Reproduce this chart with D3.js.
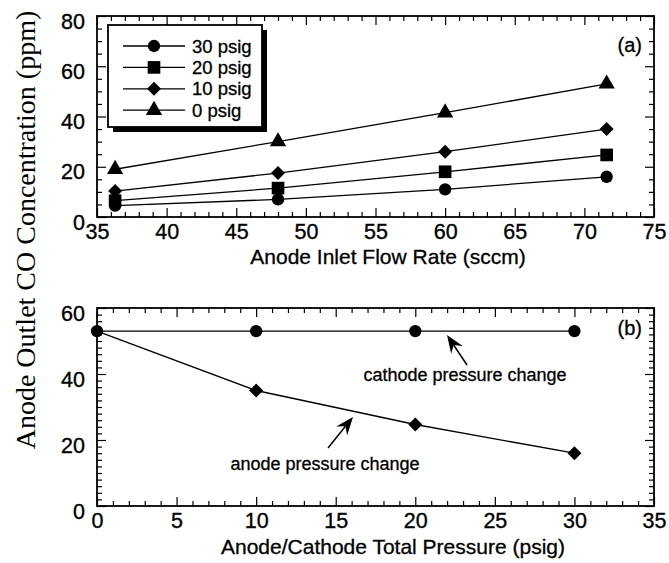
<!DOCTYPE html>
<html>
<head>
<meta charset="utf-8">
<script src="https://cdn.jsdelivr.net/npm/d3@7/dist/d3.min.js"></script>
<style>
  html, body { margin: 0; padding: 0; background: #fff; }
  svg { display: block; }
  .tick text { font-family: "Liberation Sans", Arial, Helvetica, sans-serif; font-size: 21.5px; fill: #000; stroke: #000; stroke-width: 0.35px; }
  .lbl { stroke: #000; stroke-width: 0.3px; }
</style>
</head>
<body>
<svg id="chart" width="669" height="563"></svg>
<script>
// Panel (a): CO at anode outlet vs anode inlet flow rate, one series per pressure
const flowRates = [36.3, 48, 60, 71.6];
const co30psig = [4.5, 7, 11, 16];
const co20psig = [6.5, 11.5, 18, 24.7];
const co10psig = [10.3, 17.5, 26, 35];
const co0psig  = [19, 30, 41.5, 53];
const seriesNames = ["30 psig", "20 psig", "10 psig", "0 psig"];
const seriesSymbols = ["circle", "square", "diamond", "triangle"];

// Panel (b): CO vs total pressure, raising cathode vs anode pressure
const pressures = [0, 10, 20, 30];
const cathodeChange = [53, 53, 53, 53];
const anodeChange = [53, 35, 24.7, 16];

// Axis ticks
const xTicksA = [35, 40, 45, 50, 55, 60, 65, 70, 75];
const yTicksA = [0, 20, 40, 60, 80];
const xTicksB = [0, 5, 10, 15, 20, 25, 30, 35];
const yTicksB = [0, 20, 40, 60];

const svg = d3.select("#chart");
const sans = "'Liberation Sans', Arial, Helvetica, sans-serif";
const serif = "'Liberation Serif', 'Times New Roman', Times, serif";

const left = 97, right = 654;
const panelA = { top: 16, bottom: 217 };
const panelB = { top: 308, bottom: 506 };

const xA = d3.scaleLinear().domain([35, 75]).range([left, right]);
const yA = d3.scaleLinear().domain([0, 80]).range([panelA.bottom, panelA.top]);
const xB = d3.scaleLinear().domain([0, 35]).range([left, right]);
const yB = d3.scaleLinear().domain([0, 60]).range([panelB.bottom, panelB.top]);

function range(a, b, step) {
  const out = [];
  for (let v = a; v <= b + 1e-9; v += step) out.push(+v.toFixed(6));
  return out;
}

function drawFrame(x, y, majorX, minorX, majorY, minorY) {
  const g = svg.append("g");
  const [x0, x1] = x.range();
  const [y0, y1] = y.range();
  const minorXv = minorX.filter(v => !majorX.includes(v));
  const minorYv = minorY.filter(v => !majorY.includes(v));

  // bottom: labelled major ticks and minor ticks, all pointing inward
  const b = g.append("g").attr("transform", `translate(0,${y0})`);
  b.call(d3.axisBottom(x).tickValues(majorX).tickSize(-9).tickPadding(7).tickFormat(d3.format("d")));
  b.append("g").call(d3.axisBottom(x).tickValues(minorXv).tickSize(-5).tickFormat(""));
  // top
  const t = g.append("g").attr("transform", `translate(0,${y1})`);
  t.call(d3.axisTop(x).tickValues(majorX).tickSize(-9).tickFormat(""));
  t.append("g").call(d3.axisTop(x).tickValues(minorXv).tickSize(-5).tickFormat(""));
  // left
  const l = g.append("g").attr("transform", `translate(${x0},0)`);
  l.call(d3.axisLeft(y).tickValues(majorY).tickSize(-9).tickPadding(12).tickFormat(d3.format("d")));
  l.selectAll(".tick text").attr("dy", "0.56em");
  l.append("g").call(d3.axisLeft(y).tickValues(minorYv).tickSize(-5).tickFormat(""));
  // right
  const r = g.append("g").attr("transform", `translate(${x1},0)`);
  r.call(d3.axisRight(y).tickValues(majorY).tickSize(-9).tickFormat(""));
  r.append("g").call(d3.axisRight(y).tickValues(minorYv).tickSize(-5).tickFormat(""));

  g.selectAll(".domain").remove();
  g.selectAll(".tick line").attr("stroke", "#000").attr("stroke-width", 1.2);

  g.append("rect")
    .attr("x", x0).attr("y", y1)
    .attr("width", x1 - x0).attr("height", y0 - y1)
    .attr("fill", "none").attr("stroke", "#000").attr("stroke-width", 1.8);
}

// marker shapes: circle, square, 45-degree diamond, triangle
function symbolPath(name) {
  if (name === "circle") return d3.symbol().type(d3.symbolCircle).size(120)();
  if (name === "square") return d3.symbol().type(d3.symbolSquare).size(160)();
  if (name === "triangle") return d3.symbol().type(d3.symbolTriangle).size(115)();
  const h = 7;
  return `M0,${-h}L${h},0L0,${h}L${-h},0Z`;
}

function drawSeries(x, y, xs, ys, symbol, showMarker) {
  const pts = xs.map((v, i) => [x(v), y(ys[i])]);
  svg.append("path")
    .attr("d", d3.line()(pts))
    .attr("fill", "none").attr("stroke", "#000").attr("stroke-width", 1.3);
  svg.append("g").selectAll("path")
    .data(pts.filter((p, i) => showMarker(i)))
    .join("path")
    .attr("transform", d => `translate(${d[0]},${d[1]})`)
    .attr("d", symbolPath(symbol))
    .attr("fill", "#000");
}

// ---------- panel (a) ----------
drawFrame(xA, yA, xTicksA, range(35, 75, 1), yTicksA, range(0, 80, 5));
const seriesA = [co30psig, co20psig, co10psig, co0psig];
seriesA.forEach((vals, i) => drawSeries(xA, yA, flowRates, vals, seriesSymbols[i], () => true));

// legend with drop shadow
const lg = svg.append("g");
lg.append("rect").attr("x", 113).attr("y", 30).attr("width", 154).attr("height", 102).attr("fill", "#000");
lg.append("rect").attr("x", 108).attr("y", 25).attr("width", 154).attr("height", 102)
  .attr("fill", "#fff").attr("stroke", "#000").attr("stroke-width", 1.8);
seriesNames.forEach((name, i) => {
  const cy = 46 + i * 21.4;
  lg.append("line").attr("x1", 123).attr("x2", 185).attr("y1", cy).attr("y2", cy)
    .attr("stroke", "#000").attr("stroke-width", 1.3);
  lg.append("path").attr("transform", `translate(154,${cy})`).attr("d", symbolPath(seriesSymbols[i])).attr("fill", "#000");
  lg.append("text").attr("class", "lbl").attr("x", 192).attr("y", cy + 6.5)
    .attr("font-family", sans).attr("font-size", 18.5).text(name);
});

svg.append("text").attr("class", "lbl").attr("x", 642).attr("y", 52).attr("text-anchor", "end")
  .attr("font-family", sans).attr("font-size", 20).text("(a)");

svg.append("text").attr("class", "lbl").attr("x", 388).attr("y", 264).attr("text-anchor", "middle")
  .attr("font-family", sans).attr("font-size", 21).text("Anode Inlet Flow Rate (sccm)");

// ---------- panel (b) ----------
drawFrame(xB, yB, xTicksB, range(0, 35, 1), yTicksB, range(0, 60, 2));
drawSeries(xB, yB, pressures, anodeChange, "diamond", i => i > 0);
drawSeries(xB, yB, pressures, cathodeChange, "circle", () => true);

svg.append("text").attr("class", "lbl").attr("x", 642).attr("y", 335).attr("text-anchor", "end")
  .attr("font-family", sans).attr("font-size", 20).text("(b)");

// annotation arrows
function arrow(x1, y1, x2, y2) {
  const ang = Math.atan2(y2 - y1, x2 - x1);
  const len = 18, half = 7, notch = 12;
  const ux = Math.cos(ang), uy = Math.sin(ang);
  const px = -uy, py = ux;
  const bx = x2 - ux * len, by = y2 - uy * len;
  const nx = x2 - ux * notch, ny = y2 - uy * notch;
  svg.append("line").attr("x1", x1).attr("y1", y1).attr("x2", nx).attr("y2", ny)
    .attr("stroke", "#000").attr("stroke-width", 1.5);
  svg.append("path")
    .attr("d", `M${x2},${y2}L${bx + px * half},${by + py * half}L${nx},${ny}L${bx - px * half},${by - py * half}Z`)
    .attr("fill", "#000");
}
arrow(467, 365, 447, 335);
arrow(328, 448, 353, 417);

svg.append("text").attr("class", "lbl").attr("x", 465).attr("y", 381).attr("text-anchor", "middle")
  .attr("font-family", sans).attr("font-size", 18).text("cathode pressure change");
svg.append("text").attr("class", "lbl").attr("x", 325).attr("y", 470).attr("text-anchor", "middle")
  .attr("font-family", sans).attr("font-size", 18).text("anode pressure change");

svg.append("text").attr("class", "lbl").attr("x", 393).attr("y", 554).attr("text-anchor", "middle")
  .attr("font-family", sans).attr("font-size", 21).text("Anode/Cathode Total Pressure (psig)");

// shared y-axis title
svg.append("text")
  .attr("transform", "translate(35,230) rotate(-90)")
  .attr("text-anchor", "middle")
  .attr("font-family", serif).attr("font-size", 28)
  .text("Anode Outlet CO Concentration (ppm)");
</script>
</body>
</html>
